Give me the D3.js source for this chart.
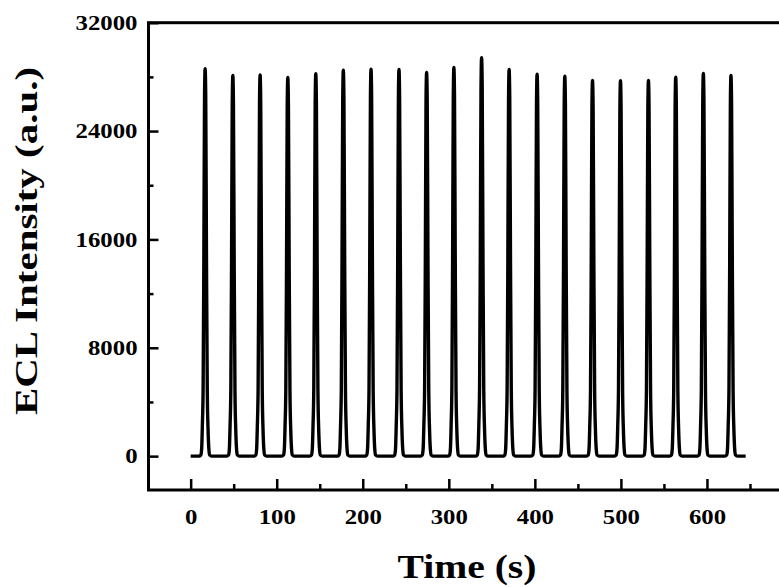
<!DOCTYPE html>
<html>
<head>
<meta charset="utf-8">
<script src="https://cdn.jsdelivr.net/npm/d3@7"></script>
<style>
  body { margin: 0; background: #fff; }
  svg { display: block; }
  text { font-family: "Liberation Serif", "Times New Roman", serif; font-weight: bold; fill: #000; }
</style>
</head>
<body>
<svg width="779" height="587"></svg>
<script>
// peak positions (s) and heights (a.u.)
var peakTimes = [16.8, 49.0, 80.7, 112.9, 145.4, 177.4, 209.6, 242.1, 274.2, 305.9,
                 338.1, 370.1, 402.6, 434.8, 467.0, 499.5, 532.0, 563.7, 595.8, 627.9];
var peakHeights = [28600, 28100, 28150, 27950, 28230, 28490, 28570, 28540, 28320, 28690,
                   29410, 28540, 28200, 28050, 27730, 27710, 27730, 27970, 28250, 28100];
// shape of one pulse: time offset from the peak (s) and fraction of peak height
var pulseOffsets = [-7, -5, -4, -3.2, -2.3, -1.5, -0.7, 0, 0.7, 1.6, 2.5, 3.4, 4.3, 5.3, 7.5];
var pulseFractions = [0, 0.003, 0.02, 0.08, 0.18, 0.5, 0.92, 1, 0.93, 0.5, 0.17, 0.07, 0.02, 0.003, 0];
var runStart = 0, runEnd = 645;

var xTicks = [0, 100, 200, 300, 400, 500, 600];
var xMinor = [50, 150, 250, 350, 450, 550, 650];
var yTicks = [0, 8000, 16000, 24000, 32000];
var yMinor = [4000, 12000, 20000, 28000];

var svg = d3.select("svg");
var plotL = 148.5, plotT = 22.7, plotR = 793, plotB = 490;

var x = d3.scaleLinear().domain([-49, 700]).range([plotL, plotR]);
var y = d3.scaleLinear().domain([-2500, 32000]).range([plotB, plotT]);

// build trace
var pts = [[runStart, 0]];
peakTimes.forEach(function(t, i) {
    pulseOffsets.forEach(function(o, j) {
        pts.push([t + o, peakHeights[i] * pulseFractions[j]]);
    });
});
pts.push([runEnd, 0]);

var line = d3.line()
    .x(function(d) { return x(d[0]); })
    .y(function(d) { return y(d[1]); })
    .curve(d3.curveMonotoneX);

svg.append("path")
    .datum(pts)
    .attr("d", line)
    .style("fill", "none")
    .style("stroke", "#000")
    .style("stroke-width", 3.4)
    .style("stroke-linejoin", "round");

// axes
function stretch(sel, k) {
    sel.each(function() {
        var w = this.getComputedTextLength();
        d3.select(this).attr("textLength", w * k).attr("lengthAdjust", "spacingAndGlyphs");
    });
}

var xAxis = svg.append("g")
    .attr("transform", "translate(0," + plotB + ")")
    .call(d3.axisBottom(x).tickValues(xTicks).tickSize(-11).tickPadding(19));
svg.append("g")
    .attr("transform", "translate(0," + plotB + ")")
    .call(d3.axisBottom(x).tickValues(xMinor).tickSize(-6).tickFormat(""));

var yAxis = svg.append("g")
    .attr("transform", "translate(" + plotL + ",0)")
    .call(d3.axisLeft(y).tickValues(yTicks).tickSize(-10).tickPadding(11).tickFormat(d3.format("d")));
svg.append("g")
    .attr("transform", "translate(" + plotL + ",0)")
    .call(d3.axisLeft(y).tickValues(yMinor).tickSize(-5).tickFormat(""));

svg.selectAll(".domain").remove();
svg.selectAll(".tick line").style("stroke", "#000").style("stroke-width", 2.5);
xAxis.selectAll("text").style("font-size", "21px").attr("dy", "0.71em");
yAxis.selectAll("text").style("font-size", "21px");
stretch(svg.selectAll(".tick text"), 1.18);

// frame
svg.append("rect")
    .attr("x", plotL).attr("y", plotT)
    .attr("width", plotR - plotL).attr("height", plotB - plotT)
    .style("fill", "none").style("stroke", "#000").style("stroke-width", 3);

// titles
svg.append("text")
    .attr("x", 467).attr("y", 578)
    .attr("text-anchor", "middle")
    .style("font-size", "33px")
    .text("Time (s)")
    .call(stretch, 1.2);

svg.append("text")
    .attr("transform", "translate(37,241) rotate(-90)")
    .attr("text-anchor", "middle")
    .style("font-size", "32px")
    .text("ECL Intensity (a.u.)")
    .call(stretch, 1.28);
</script>
</body>
</html>
